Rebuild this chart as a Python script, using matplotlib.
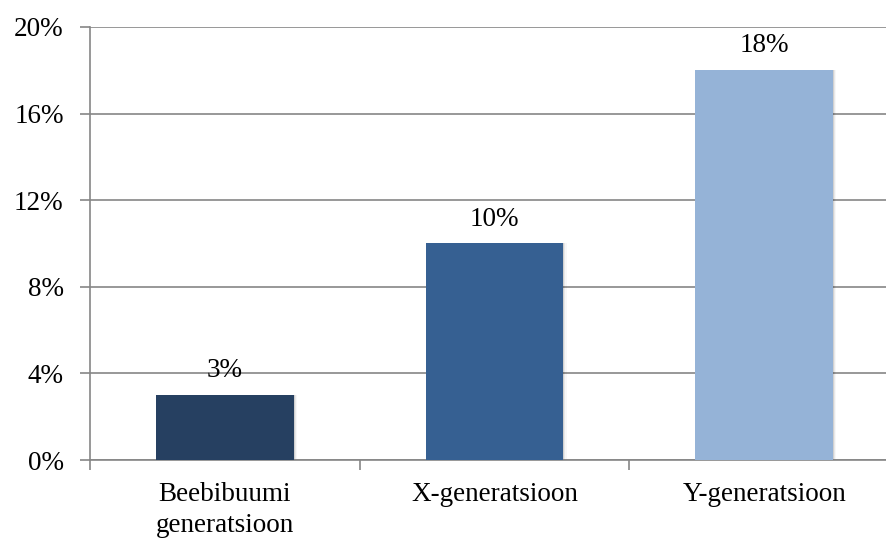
import matplotlib
matplotlib.use("Agg")
import matplotlib.pyplot as plt
from matplotlib.ticker import FuncFormatter, FixedLocator
import numpy as np

categories = ["Beebibuumi\ngeneratsioon", "X-generatsioon", "Y-generatsioon"]
values = [3, 10, 18]
bar_colors = ["#264061", "#366092", "#95B3D7"]
y_ticks = [0, 4, 8, 12, 16, 20]

plt.rcParams["font.family"] = ["Liberation Serif", "DejaVu Serif"]

W, H = 886, 543
fig = plt.figure(figsize=(W / 100, H / 100), dpi=100)
left, right = 90 / W, 899 / W
bottom, top = 1 - 460 / H, 1 - 27 / H
ax = fig.add_axes([left, bottom, right - left, top - bottom])

x = np.arange(len(categories))
grid_color = "#868686"
fs = 19.5

# soft drop shadow behind each bar
for xi, v in zip(x, values):
    for k, a in enumerate([0.10, 0.06, 0.03]):
        ax.bar(xi + 0.004 * (k + 1), v, width=0.51, color="black", alpha=a,
               zorder=2, linewidth=0)

bars = ax.bar(x, values, width=0.51, color=bar_colors, zorder=3, linewidth=0)

for xi, v in zip(x, values):
    ax.annotate(f"{v}%", (xi, v), xytext=(0, 8.5), textcoords="offset points",
                ha="center", va="bottom", fontsize=fs, color="black", zorder=4)

ax.set_xlim(-0.5, 2.5)
ax.set_ylim(0, 20)
ax.set_yticks(y_ticks)
ax.yaxis.set_major_formatter(FuncFormatter(lambda v, p: f"{v:.0f}%"))
ax.yaxis.grid(True, color=grid_color, linewidth=1.2, zorder=0)
ax.set_axisbelow(True)

ax.set_xticks(x)
ax.set_xticklabels(categories, fontsize=fs, linespacing=1.3)
ax.xaxis.set_minor_locator(FixedLocator([-0.5, 0.5, 1.5, 2.5]))
ax.tick_params(axis="x", which="major", length=0, pad=16)
ax.tick_params(axis="x", which="minor", length=7, width=1.2, color=grid_color, direction="out")
ax.tick_params(axis="y", length=7, width=1.2, color=grid_color, labelsize=fs, pad=12)

for s in ["top", "right"]:
    ax.spines[s].set_visible(False)
for s in ["left", "bottom"]:
    ax.spines[s].set_color(grid_color)
    ax.spines[s].set_linewidth(1.2)

fig.savefig("out.png", dpi=100)
